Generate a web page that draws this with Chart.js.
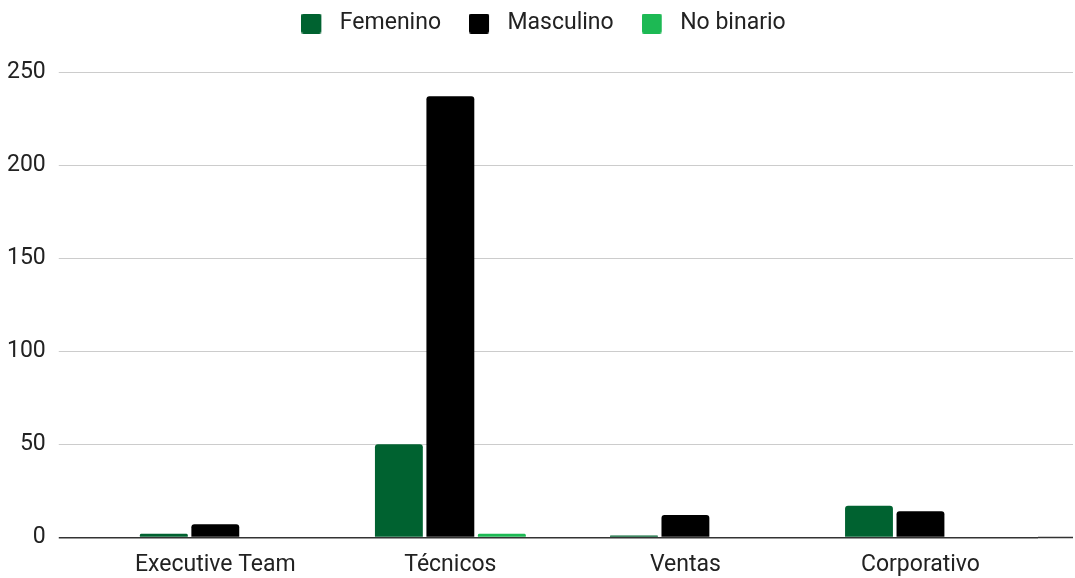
<!DOCTYPE html>
<html>
<head>
<meta charset="utf-8">
<script src="https://cdn.jsdelivr.net/npm/chart.js@4/dist/chart.umd.min.js"></script>
<style>
  html, body { margin: 0; padding: 0; background: #fff; }
  #wrap { width: 1075px; height: 578px; }
</style>
</head>
<body>
<div id="wrap"><canvas id="chart"></canvas></div>
<script>
"use strict";

// Data
const categories = ["Executive Team", "Técnicos", "Ventas", "Corporativo"];
const femenino = [2, 50, 1, 17];
const masculino = [7, 237, 12, 14];
const noBinario = [0, 2, 0, 0];
const yTicks = [0, 50, 100, 150, 200, 250];

const FONT = { family: "Roboto", size: 23 };
const gridColor = (ctx) => (ctx.tick && ctx.tick.value === 0 ? "#333333" : "#cccccc");
const gridWidth = (ctx) => (ctx.tick && ctx.tick.value === 0 ? 1.5 : 1);

const makeSet = (label, data, color) => ({
  label: label,
  data: data,
  backgroundColor: color,
  borderRadius: 3,
  borderSkipped: "start",
  categoryPercentage: 0.657,
  barPercentage: 0.93,
});

// legend swatch: a 20px rounded square with some blank room on its right,
// so the text sits further from the box (like the Google chart)
const swatch = (color) => {
  const c = document.createElement("canvas");
  c.width = 27;
  c.height = 20;
  const ctx = c.getContext("2d");
  ctx.fillStyle = color;
  ctx.beginPath();
  ctx.roundRect(0, 0, 20, 20, 2);
  ctx.fill();
  return c;
};

// extra room below the legend, and nudge it a bit to the right
const legendTweaks = {
  id: "legendTweaks",
  beforeInit(chart) {
    const fit = chart.legend.fit;
    chart.legend.fit = function () {
      fit.call(this);
      this.height += 27;
    };
  },
  afterLayout(chart) {
    chart.legend.left += 10;
    chart.legend.right += 10;
  },
};

const config = {
  type: "bar",
  data: {
    labels: categories,
    datasets: [
      makeSet("Femenino", femenino, "#006230"),
      makeSet("Masculino", masculino, "#000000"),
      makeSet("No binario", noBinario, "#1db954"),
    ],
  },
  options: {
    responsive: true,
    maintainAspectRatio: false,
    animation: false,
    layout: { padding: { left: -6, right: 2, top: -16, bottom: -15 } },
    plugins: {
      legend: {
        position: "top",
        labels: {
          font: FONT,
          color: "#222222",
          boxWidth: 27,
          boxHeight: 20,
          padding: 28,
          usePointStyle: true,
          pointStyleWidth: 27,
          generateLabels(chart) {
            const items = Chart.defaults.plugins.legend.labels.generateLabels(chart);
            items.forEach((item) => { item.pointStyle = swatch(item.fillStyle); });
            return items;
          },
        },
      },
      tooltip: { enabled: false },
    },
    scales: {
      x: {
        grid: { display: false, drawTicks: false },
        border: { display: false },
        ticks: { font: FONT, color: "#222222", padding: 14 },
      },
      y: {
        min: 0,
        max: 250,
        afterBuildTicks: (axis) => { axis.ticks = yTicks.map((v) => ({ value: v })); },
        grid: { color: gridColor, tickColor: gridColor, lineWidth: gridWidth, tickWidth: gridWidth, tickLength: 39 },
        border: { display: false },
        ticks: { font: FONT, color: "#222222", padding: 13 },
      },
      yRight: {
        position: "right",
        min: 0,
        max: 250,
        afterBuildTicks: (axis) => { axis.ticks = yTicks.map((v) => ({ value: v })); },
        grid: { color: gridColor, tickColor: gridColor, tickWidth: gridWidth, tickLength: 35, drawOnChartArea: false },
        border: { display: false },
        ticks: { display: false },
      },
    },
  },
  plugins: [legendTweaks],
};

new Chart(document.querySelector("#chart"), config);
</script>
</body>
</html>
